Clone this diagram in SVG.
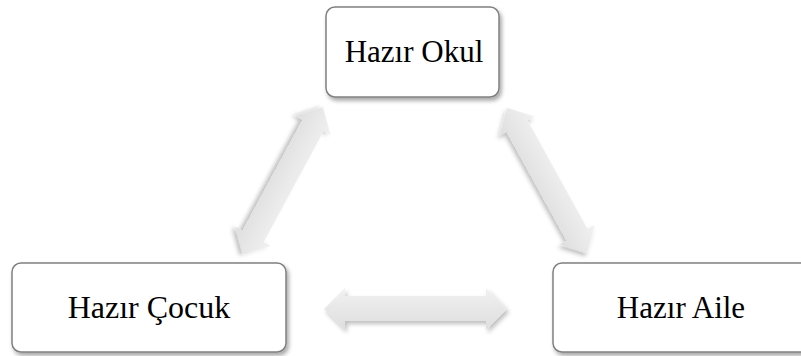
<svg xmlns="http://www.w3.org/2000/svg" width="801" height="356" viewBox="0 0 801 356">
  <style>
    .box { fill: #ffffff; stroke: #808080; stroke-width: 1.5; filter: url(#boxShadow); }
    .label { font-family: "Liberation Serif", "Times New Roman", serif; font-size: 31px; fill: #000000; text-anchor: middle; }
    .arrow { fill: url(#arrowFill); filter: url(#arrowShadow); }
  </style>
  <defs>
    <filter id="boxShadow" x="-10%" y="-10%" width="125%" height="130%">
      <feDropShadow dx="2" dy="3" stdDeviation="2" flood-color="#000000" flood-opacity="0.35"/>
    </filter>
    <filter id="arrowShadow" x="-20%" y="-40%" width="140%" height="180%">
      <feDropShadow dx="2" dy="3" stdDeviation="2" flood-color="#000000" flood-opacity="0.25"/>
    </filter>
    <linearGradient id="arrowFill" x1="0" y1="0" x2="0" y2="1">
      <stop offset="0" stop-color="#f1f1f1"/>
      <stop offset="1" stop-color="#dedede"/>
    </linearGradient>
  </defs>

  <!-- connectors: double-headed block arrows, drawn along x and rotated into place -->
  <g id="connectors">
    <!-- Okul <-> Çocuk -->
    <path class="arrow" transform="translate(283,181) rotate(118.4)"
          d="M -84 0 L -63 -20 L -63 -12 L 63 -12 L 63 -20 L 84 0 L 63 20 L 63 12 L -63 12 L -63 20 Z"/>
    <!-- Okul <-> Aile -->
    <path class="arrow" transform="translate(547,180.5) rotate(61.1)"
          d="M -83 0 L -62 -20 L -62 -12 L 62 -12 L 62 -20 L 83 0 L 62 20 L 62 12 L -62 12 L -62 20 Z"/>
    <!-- Çocuk <-> Aile -->
    <path class="arrow"
          d="M 324 309 L 345 288 L 345 296 L 486 296 L 486 288 L 507 309 L 486 330 L 486 321 L 345 321 L 345 330 Z"/>
  </g>

  <g id="node-okul">
    <rect class="box" x="326" y="7" width="173" height="90" rx="9"/>
    <text class="label" x="414" y="62">Hazır Okul</text>
  </g>

  <g id="node-cocuk">
    <rect class="box" x="12" y="263" width="274" height="89" rx="9"/>
    <text class="label" x="149" y="318" style="font-size:32px">Hazır Çocuk</text>
  </g>

  <g id="node-aile">
    <rect class="box" x="553" y="263" width="260" height="89" rx="9"/>
    <text class="label" x="681" y="318">Hazır Aile</text>
  </g>
</svg>
